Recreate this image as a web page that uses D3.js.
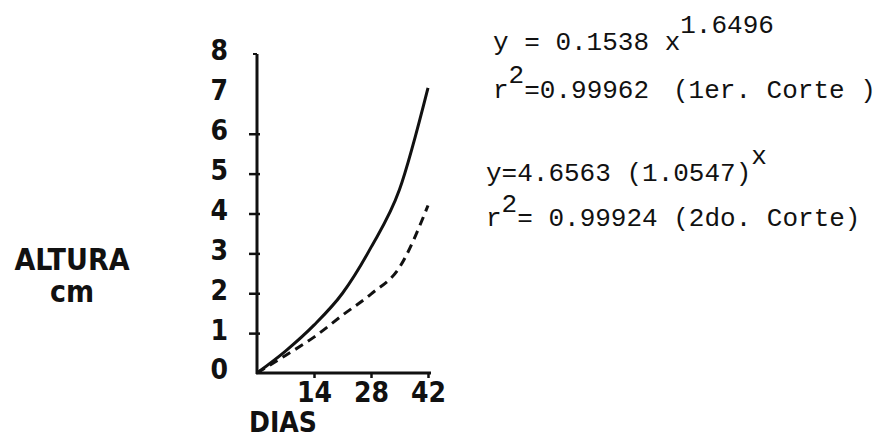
<!DOCTYPE html>
<html>
<head>
<meta charset="utf-8">
<script src="https://cdn.jsdelivr.net/npm/d3@7/dist/d3.min.js"></script>
<style>
  body { margin: 0; background: #fff; }
  svg { display: block; }
  .lbl { font-family: "DejaVu Sans Condensed", "DejaVu Sans", sans-serif; font-stretch: condensed; font-weight: bold; fill: #111; }
  .eq { font-family: "Liberation Mono", "DejaVu Sans Mono", monospace; fill: #111; }
</style>
</head>
<body>
<script>
// Data
const days = [0, 7, 14, 21, 28, 35, 42];
const corte1 = [0, 0.55, 1.2, 2.0, 3.15, 4.6, 7.15];   // solid line
const corte2 = [0, 0.44, 0.9, 1.45, 1.98, 2.65, 4.2];  // dashed line
const yTicks = [0, 1, 2, 3, 4, 5, 6, 7, 8];
const xTicks = [14, 28, 42];

const W = 881, H = 439;
const svg = d3.select("body").append("svg").attr("width", W).attr("height", H);

// Scales
const x = d3.scaleLinear().domain([0, 42]).range([257, 428]);
const y = d3.scaleLinear().domain([0, 8]).range([373, 54]);

// Y axis: ticks for 1..6, labels for all
const yAxis = d3.axisLeft(y).tickValues(yTicks).tickSize(8).tickPadding(21).tickFormat(d3.format("d"));
const gy = svg.append("g").attr("transform", `translate(${x(0)},0)`).call(yAxis);
gy.select(".domain").remove();
gy.selectAll(".tick line")
  .attr("x1", 3)
  .attr("stroke", "#111")
  .attr("stroke-width", 2.5)
  .attr("display", d => (d >= 1 && d <= 6 ? null : "none"));
gy.selectAll(".tick text")
  .attr("class", "lbl")
  .attr("font-size", 28)
  .attr("dy", "0.32em")
  .attr("y", -3);

// X axis
const xAxis = d3.axisBottom(x).tickValues(xTicks).tickSize(5).tickPadding(10);
const gx = svg.append("g").attr("transform", `translate(0,${y(0)})`).call(xAxis);
gx.select(".domain").remove();
gx.selectAll(".tick line").attr("stroke", "#111").attr("stroke-width", 2.5);
gx.selectAll(".tick text")
  .attr("class", "lbl")
  .attr("font-size", 28)
  .attr("dy", "0.71em")
  .attr("y", 9);

// axis lines
svg.append("line")
  .attr("x1", x(0)).attr("x2", x(0))
  .attr("y1", y(0) + 1).attr("y2", y(8))
  .attr("stroke", "#111").attr("stroke-width", 3);
svg.append("line")
  .attr("x1", x(0) - 1).attr("x2", x(42) + 3)
  .attr("y1", y(0)).attr("y2", y(0))
  .attr("stroke", "#111").attr("stroke-width", 3);
// small hook at the top of the y axis
svg.append("line")
  .attr("x1", x(0) - 4).attr("x2", x(0))
  .attr("y1", y(8)).attr("y2", y(8))
  .attr("stroke", "#111").attr("stroke-width", 2);

// Curves
const line = d3.line()
  .x((d, i) => x(days[i]))
  .y(d => y(d))
  .curve(d3.curveMonotoneX);

svg.append("path").datum(corte1)
  .attr("d", line)
  .attr("fill", "none").attr("stroke", "#111").attr("stroke-width", 3);

svg.append("path").datum(corte2)
  .attr("d", line)
  .attr("fill", "none").attr("stroke", "#111").attr("stroke-width", 3)
  .attr("stroke-dasharray", "9,6");

// Axis titles
svg.append("text").attr("class", "lbl").attr("font-size", 30)
  .attr("x", 72).attr("y", 270).attr("text-anchor", "middle").text("ALTURA");
svg.append("text").attr("class", "lbl").attr("font-size", 30)
  .attr("x", 72).attr("y", 302).attr("text-anchor", "middle").text("cm");
svg.append("text").attr("class", "lbl").attr("font-size", 28)
  .attr("x", 283).attr("y", 432).attr("text-anchor", "middle").text("DIAS");

// Regression equations
const eqSize = 26;
const t1 = svg.append("text").attr("class", "eq").attr("font-size", eqSize).attr("x", 493).attr("y", 50);
t1.append("tspan").text("y = 0.1538 x");
t1.append("tspan").attr("dy", -17).text("1.6496");

const t2 = svg.append("text").attr("class", "eq").attr("font-size", eqSize).attr("x", 493).attr("y", 98);
t2.append("tspan").text("r");
t2.append("tspan").attr("dy", -15).text("2");
t2.append("tspan").attr("dy", 15).text("=0.99962");
t2.append("tspan").attr("x", 673).text("(1er. Corte )");

const t3 = svg.append("text").attr("class", "eq").attr("font-size", eqSize).attr("x", 486).attr("y", 181);
t3.append("tspan").text("y=4.6563 (1.0547)");
t3.append("tspan").attr("dy", -17).text("x");

const t4 = svg.append("text").attr("class", "eq").attr("font-size", eqSize).attr("x", 486).attr("y", 226);
t4.append("tspan").text("r");
t4.append("tspan").attr("dy", -14).text("2");
t4.append("tspan").attr("dy", 14).text("= 0.99924 (2do. Corte)");
</script>
</body>
</html>
